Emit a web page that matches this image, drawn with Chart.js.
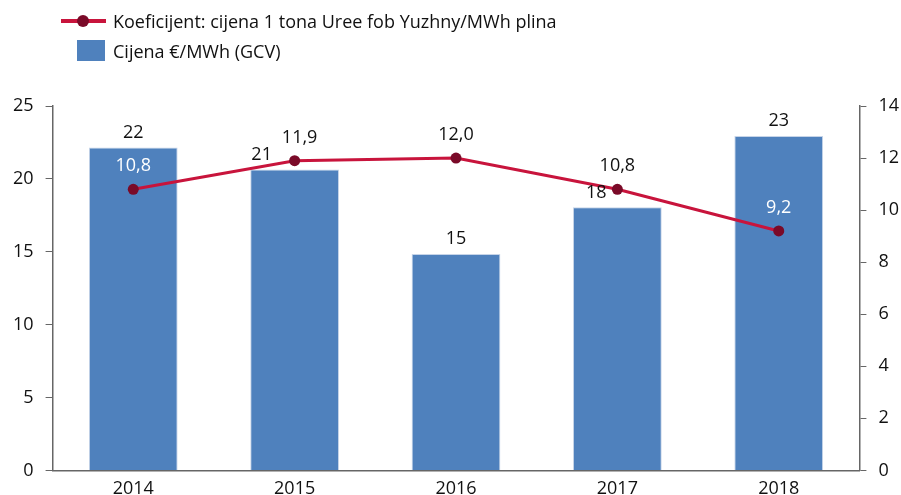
<!DOCTYPE html>
<html lang="hr">
<head>
<meta charset="UTF-8">
<title>Cijena plina i koeficijent</title>
<script src="https://cdn.jsdelivr.net/npm/chart.js"></script>
<style>
  html, body { margin: 0; padding: 0; background: #fff; overflow: hidden; }
  body { width: 901px; height: 495px; position: relative; font-family: "Open Sans", sans-serif; }
  #chart { position: absolute; left: 0; top: 0; }
  #legend { position: absolute; left: 0; top: 0; font-size: 18px; color: #111; }
  #legend .item { position: absolute; left: 0; height: 24px; white-space: nowrap; }
  #legend .item span { position: absolute; left: 113px; top: 0; line-height: 24px; }
</style>
</head>
<body>
<canvas id="chart" width="901" height="508"></canvas>
<div id="legend"></div>

<script>
const years = ['2014', '2015', '2016', '2017', '2018'];
const gasPrice = [22.15, 20.65, 14.85, 18.05, 22.95];
const gasPriceLabels = ['22', '21', '15', '18', '23'];
const ratio = [10.8, 11.9, 12.0, 10.8, 9.2];
const ratioLabels = ['10,8', '11,9', '12,0', '10,8', '9,2'];
const leftTicks = [0, 5, 10, 15, 20, 25];
const rightTicks = [0, 2, 4, 6, 8, 10, 12, 14];

const barColor = '#4F81BD';
const lineColor = '#C8143C';
const markerColor = '#7A0A28';
const font = { family: 'Open Sans', size: 18 };

// label tweaks (dx, dy in px, colour)
const barLabelShift = [[0, 0], [-33, 0], [0, 0], [-21, 1], [0, 0]];
const lineLabelColor = ['#fff', '#111', '#111', '#111', '#fff'];
const lineLabelShift = [[0, 0], [5, 0], [0, 0], [0, 0], [0, 0]];

const valueLabels = {
    id: 'valueLabels',
    afterDatasetsDraw(chart) {
        const ctx = chart.ctx;
        ctx.save();
        ctx.font = '18px "Open Sans", sans-serif';
        ctx.textAlign = 'center';
        ctx.textBaseline = 'middle';
        chart.getDatasetMeta(1).data.forEach((bar, i) => {
            ctx.fillStyle = '#111';
            ctx.fillText(gasPriceLabels[i], bar.x + barLabelShift[i][0], bar.y - 15 + barLabelShift[i][1]);
        });
        chart.getDatasetMeta(0).data.forEach((pt, i) => {
            ctx.fillStyle = lineLabelColor[i];
            ctx.fillText(ratioLabels[i], pt.x + lineLabelShift[i][0], pt.y - 23 + lineLabelShift[i][1]);
        });
        ctx.restore();
    }
};

const ctx = document.getElementById('chart').getContext('2d');
const chart = new Chart(ctx, {
    type: 'bar',
    data: {
        labels: years,
        datasets: [{
            type: 'line',
            label: 'Koeficijent: cijena 1 tona Uree fob Yuzhny/MWh plina',
            data: ratio,
            yAxisID: 'y1',
            borderColor: lineColor,
            borderWidth: 3,
            pointRadius: 5.5,
            pointBackgroundColor: markerColor,
            pointBorderColor: markerColor,
            pointBorderWidth: 0,
            tension: 0,
            order: 0
        }, {
            label: 'Cijena €/MWh (GCV)',
            data: gasPrice,
            yAxisID: 'y',
            backgroundColor: barColor,
            borderColor: '#C6D4E8',
            borderWidth: 1,
            categoryPercentage: 1,
            barPercentage: 0.55,
            order: 1
        }]
    },
    options: {
        responsive: false,
        animation: false,
        layout: { padding: { top: 106, left: 1, right: -10, bottom: 0 } },
        plugins: { legend: { display: false }, tooltip: { enabled: false } },
        scales: {
            x: {
                grid: { display: false, drawTicks: false },
                border: { color: '#666', width: 1.5 },
                ticks: { color: '#111', font: font, padding: 8 }
            },
            y: {
                position: 'left',
                min: 0, max: 25,
                afterBuildTicks: s => { s.ticks = leftTicks.map(v => ({ value: v })); },
                grid: { drawOnChartArea: false, tickLength: 7, color: '#666' },
                border: { color: '#666', width: 1.5 },
                ticks: { color: '#111', font: font, padding: 12 }
            },
            y1: {
                position: 'right',
                min: 0, max: 14,
                afterBuildTicks: s => { s.ticks = rightTicks.map(v => ({ value: v })); },
                grid: { drawOnChartArea: false, tickLength: 7, color: '#666' },
                border: { color: '#666', width: 1.5 },
                ticks: { color: '#111', font: font, padding: 12 }
            }
        }
    },
    plugins: [valueLabels]
});

// legend built from the datasets
const legend = document.getElementById('legend');
const rowTop = [9, 39];
chart.data.datasets.forEach((ds, i) => {
    const item = document.createElement('div');
    item.className = 'item';
    item.style.top = rowTop[i] + 'px';
    if (ds.type === 'line') {
        item.innerHTML = '<div style="position:absolute;left:61px;top:10px;width:45px;height:4px;background:' + lineColor + '"></div>' +
            '<div style="position:absolute;left:77px;top:6px;width:12px;height:12px;border-radius:50%;background:' + markerColor + '"></div>';
    } else {
        item.innerHTML = '<div style="position:absolute;left:77px;top:1px;width:28px;height:21px;background:' + barColor + '"></div>';
    }
    const txt = document.createElement('span');
    txt.textContent = ds.label;
    item.appendChild(txt);
    legend.appendChild(item);
});
</script>
</body>
</html>
